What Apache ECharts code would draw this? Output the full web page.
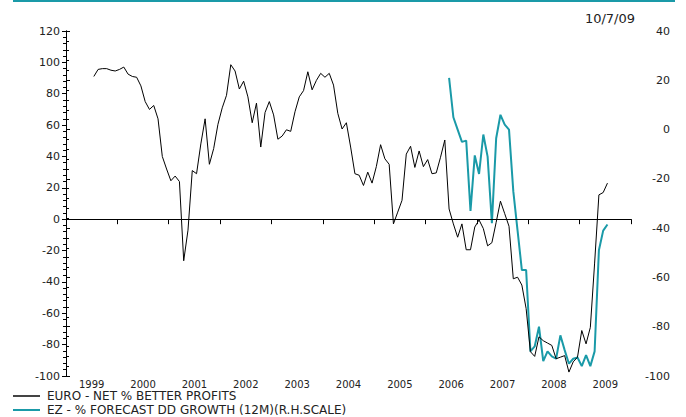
<!DOCTYPE html>
<html>
<head>
<meta charset="utf-8">
<script src="https://cdn.jsdelivr.net/npm/echarts@6/dist/echarts.min.js"></script>
<style>
  html, body { margin: 0; padding: 0; background: #fff; }
  #chart { width: 686px; height: 417px; }
</style>
</head>
<body>
<div id="chart"></div>
<script>
// ---- data ----
const years = ['1999','2000','2001','2002','2003','2004','2005','2006','2007','2008','2009'];
const firstYear = 1999;

const profitName = 'EURO - NET % BETTER PROFITS';
const profitStart = '1999-07';
const profitValues = [
  91, 95.5, 96, 96, 95, 94.5, 95.5, 97, 92.5, 91,
  90.5, 85, 75, 70, 72.5, 64, 40, 32, 24.5, 27.5,
  24, -26.5, -7, 31, 29, 48, 64, 35, 45, 60.5,
  71, 79, 98.5, 94.5, 83, 88, 78, 61.5, 74, 46,
  68, 75, 66.5, 51, 53, 57, 56, 68.5, 78, 82,
  94, 82.5, 88.5, 93, 90.5, 93, 85.5, 67.5, 57.5, 61.5,
  46, 29, 28, 21.5, 30, 23, 33.5, 47.5, 38.5, 35,
  -3, 4.5, 12, 41.5, 46.5, 33, 43.5, 33.5, 38, 29,
  29.5, 39.5, 50.5, 6.5, -3, -11.5, -3, -19.5, -19.5, -5,
  -0.5, -6, -17, -15, -2, 11.5, 3.5, -4.5, -38, -37,
  -42, -57, -84.5, -87.5, -75, -77.5, -79, -80.5, -89, -88,
  -87, -97.5, -91, -88, -71, -79.5, -69, -28, 15.5, 17,
  23
];

const forecastName = 'EZ - % FORECAST DD GROWTH (12M)(R.H.SCALE)';
const forecastStart = '2006-06';
const forecastValues = [
  21, 5, 0, -5, -4.5, -33, -10.5, -18, -2, -11,
  -38, -3.5, 6, 2, 0, -25, -41, -57, -57, -90,
  -88, -80, -94, -90, -92, -93, -83.5, -89.5, -95, -93,
  -92.5, -96, -91.5, -96, -90, -49, -41, -38.5
];

const leftTicks = { min: -100, max: 120, step: 20 };
const rightTicks = { min: -100, max: 40, step: 20 };
const dateText = '10/7/09';

// ---- helpers ----
function monthIndex(s) {
  const [y, m] = s.split('-').map(Number);
  return (y - firstYear) * 12 + (m - 1);
}
function toPairs(start, values) {
  const s = monthIndex(start);
  return values.map((v, i) => [s + i + 0.5, v]);
}

const FONT = 'DejaVu Sans';
const TEAL = '#1a9aa8';
const totalMonths = years.length * 12;

const chart = echarts.init(document.getElementById('chart'), null, { renderer: 'svg' });
chart.setOption({
  animation: false,
  backgroundColor: '#fff',
  title: {
    text: dateText,
    right: 46, top: 7,
    textStyle: { fontFamily: FONT, fontSize: 13, fontWeight: 'normal', color: '#222' }
  },
  graphic: [{
    type: 'rect', left: 13, top: 0,
    shape: { width: 662, height: 2 },
    style: { fill: TEAL }
  }],
  grid: { left: 66, right: 55, top: 31, bottom: 41, containLabel: false },
  legend: {
    orient: 'vertical',
    left: 13, top: 390,
    padding: 0, itemGap: 2,
    itemWidth: 27, itemHeight: 2,
    textStyle: { fontFamily: FONT, fontSize: 12, lineHeight: 12, color: '#222', padding: [0, 0, 0, 2] },
    data: [
      { name: profitName, icon: 'rect', itemStyle: { color: '#444' } },
      { name: forecastName, icon: 'rect', itemStyle: { color: TEAL } }
    ]
  },
  xAxis: [
    {
      type: 'value', min: 0, max: totalMonths, interval: 12,
      axisLine: { show: true, lineStyle: { color: '#000', width: 1 } },
      axisTick: { show: true, inside: false, length: 5, lineStyle: { color: '#000' } },
      axisLabel: { show: false },
      splitLine: { show: false }
    },
    {
      type: 'value', min: 0, max: totalMonths, interval: 6, position: 'bottom', offset: 0,
      axisLine: { show: false }, axisTick: { show: false }, splitLine: { show: false },
      axisLabel: {
        show: true, margin: 3,
        fontFamily: FONT, fontSize: 10, lineHeight: 10, color: '#222',
        formatter: v => (v % 12 === 6 ? years[(v - 6) / 12] : '')
      }
    }
  ],
  yAxis: [
    {
      type: 'value', position: 'left',
      min: leftTicks.min, max: leftTicks.max, interval: leftTicks.step,
      axisLine: { show: true, lineStyle: { color: '#000', width: 1 } },
      axisTick: { show: true, length: 4, lineStyle: { color: '#000' } },
      minorTick: { show: true, splitNumber: 5, length: 3, lineStyle: { color: '#000' } },
      axisLabel: { margin: 6, fontFamily: FONT, fontSize: 11, color: '#222' },
      splitLine: { show: false }
    },
    {
      type: 'value', position: 'right',
      min: rightTicks.min, max: rightTicks.max, interval: rightTicks.step,
      axisLine: { show: true, lineStyle: { color: '#000', width: 1 } },
      axisTick: { show: true, length: 4, lineStyle: { color: '#000' } },
      minorTick: { show: true, splitNumber: 5, length: 3, lineStyle: { color: '#000' } },
      axisLabel: { margin: 39, align: 'right', fontFamily: FONT, fontSize: 11, color: '#222' },
      splitLine: { show: false }
    }
  ],
  series: [
    {
      name: profitName, type: 'line', xAxisIndex: 0, yAxisIndex: 0,
      data: toPairs(profitStart, profitValues),
      showSymbol: false, symbol: 'none',
      lineStyle: { color: '#000', width: 1 },
      itemStyle: { color: '#000' },
      markLine: {
        silent: true, symbol: 'none', label: { show: false },
        lineStyle: { color: '#000', width: 1, type: 'solid' },
        data: [{ yAxis: 0 }]
      },
      z: 3
    },
    {
      name: forecastName, type: 'line', xAxisIndex: 0, yAxisIndex: 1,
      data: toPairs(forecastStart, forecastValues),
      showSymbol: false, symbol: 'none',
      lineStyle: { color: TEAL, width: 2 },
      itemStyle: { color: TEAL },
      z: 2
    }
  ]
});
</script>
</body>
</html>
